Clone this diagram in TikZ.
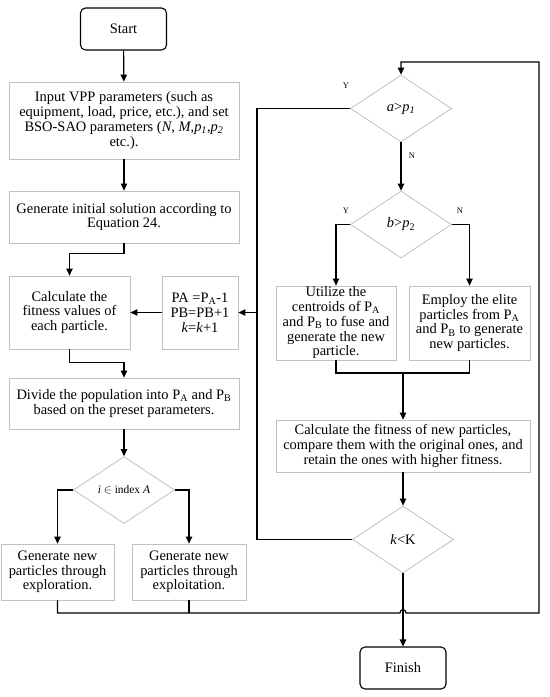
\documentclass[tikz,border=0pt]{standalone}
\usepackage{fontspec}
\setmainfont{Liberation Serif}
\usetikzlibrary{shapes.geometric,arrows.meta}
\definecolor{boxgray}{RGB}{192,192,192}
\begin{document}
\begin{tikzpicture}[x=1bp,y=-1bp,
  txt/.style={font=\fontsize{14.5}{14.8}\selectfont},
  procbox/.style={txt,draw=boxgray,line width=0.8bp,align=center,inner sep=0pt},
  term/.style={txt,draw=black,line width=1.1bp,rounded corners=5bp,inner sep=0pt,minimum width=86bp,minimum height=42bp},
  dec/.style={draw=boxgray,line width=0.8bp,diamond,inner sep=0pt,minimum width=101bp,minimum height=67bp},
  conn/.style={line width=1.2bp,draw=black},
  arr/.style={conn,-{Triangle[length=7bp,width=6.5bp]}},
  yn/.style={font=\fontsize{8.5}{9}\selectfont,inner sep=0pt}]
\useasboundingbox (0,0) rectangle (550,697);

% left column
\node[term] (start) at (123.5,29) {Start};
\node[procbox,minimum width=230bp,minimum height=77bp] (input) at (124,120.5)
  {Input VPP parameters (such as\\equipment, load, price, etc.), and set\\BSO-SAO parameters (\textit{N}, \textit{M},\textit{p}\textsubscript{\textit{1}},\textit{p}\textsubscript{\textit{2}}\\etc.).};
\node[procbox,minimum width=230bp,minimum height=52bp] (gen) at (124,217)
  {Generate initial solution according to\\Equation 24.};
\node[procbox,minimum width=121bp,minimum height=73bp] (calc) at (69.5,312.5)
  {Calculate the\\fitness values of\\each particle.};
\node[procbox,minimum width=76bp,minimum height=73bp] (upd) at (200,312.5)
  {PA =P\textsubscript{A}-1\\PB=PB+1\\\textit{k}=\textit{k}+1};
\node[procbox,minimum width=230bp,minimum height=51bp] (divide) at (124,403.5)
  {Divide the population into P\textsubscript{A} and P\textsubscript{B}\\based on the preset parameters.};
\node[dec] (di) at (124,490) {\fontsize{11.5}{12}\selectfont\textit{i} $\in$ index \textit{A}};
\node[procbox,minimum width=113bp,minimum height=56bp] (explor) at (57.5,572)
  {Generate new\\particles through\\exploration.};
\node[procbox,minimum width=114bp,minimum height=56bp] (exploit) at (189,572)
  {Generate new\\particles through\\exploitation.};

% right column
\node[dec,txt] (da) at (401,108.5) {\textit{a}>\textit{p}\textsubscript{\textit{1}}};
\node[dec,txt] (db) at (401,224.5) {\textit{b}>\textit{p}\textsubscript{2}};
\node[procbox,minimum width=120bp,minimum height=74bp] (util) at (336,323)
  {Utilize the\\centroids of P\textsubscript{A}\\and P\textsubscript{B} to fuse and\\generate the new\\particle.};
\node[procbox,minimum width=121bp,minimum height=74bp] (emp) at (469.5,323)
  {Employ the elite\\particles from P\textsubscript{A}\\and P\textsubscript{B} to generate\\new particles.};
\node[procbox,minimum width=254bp,minimum height=52bp] (cnew) at (403,446)
  {Calculate the fitness of new particles,\\compare them with the original ones, and\\retain the ones with higher fitness.};
\node[dec,txt] (dk) at (403,539.5) {\textit{k}<K};
\node[term] (finish) at (403,668) {Finish};

% labels
\node[yn] (ya) at (346,86) {Y};
\node[yn] (na) at (412,156) {N};
\node[yn] (yb) at (346,211) {Y};
\node[yn] (nb) at (460,211) {N};

% coordinates
\coordinate (lt) at (257,108.5);
\coordinate (lb) at (257,539.5);
\coordinate (bl) at (57.5,613);
\coordinate (br) at (539,613);
\coordinate (tr) at (539,62);
\coordinate (m) at (403,373);

% connectors
\draw[arr] (start) -- (input);
\draw[arr] (input) -- (gen);
\draw[arr] (gen.south) -- ++(0,10) -| (calc.north);
\draw[arr] (upd) -- (calc);
\draw[arr] (calc.south) -- ++(0,13) -| (divide.north);
\draw[arr] (divide) -- (di);
\draw[arr] (di.west) -| (explor.north);
\draw[arr] (di.east) -| (exploit.north);
\draw[conn] (exploit.south) -- (exploit.south |- bl);
\draw[arr] (explor.south) -- (bl) -- (400,613) .. controls (400,608.5) and (406,608.5) .. (406,613) -- (br) -- (tr) -| (da.north);
\draw[conn] (da.west) -| (lb) -- (dk.west);
\draw[arr] (lt |- upd.east) -- (upd.east);
\draw[arr] (da) -- (db);
\draw[arr] (db.west) -| (util.north);
\draw[arr] (db.east) -| (emp.north);
\draw[conn] (util.south) |- (m) -| (emp.south);
\draw[arr] (m) -- (cnew.north);
\draw[arr] (cnew) -- (dk);
\draw[arr] (dk) -- (finish);
\end{tikzpicture}
\end{document}
